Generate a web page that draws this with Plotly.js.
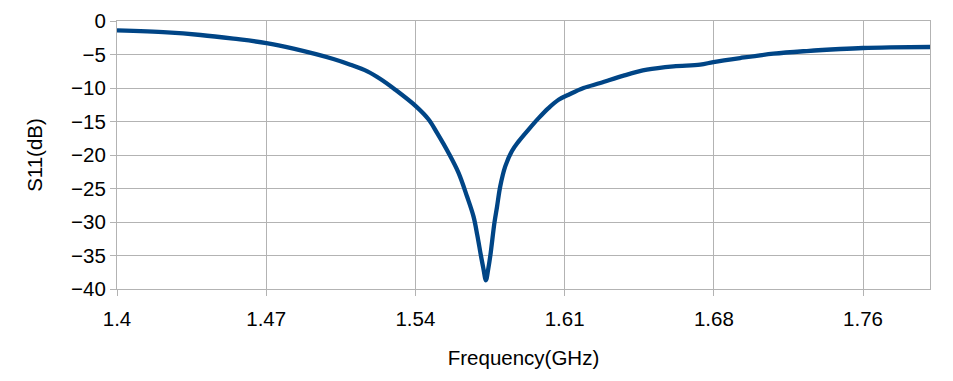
<!DOCTYPE html>
<html>
<head>
<meta charset="utf-8">
<script src="https://cdn.plot.ly/plotly-3.0.1.min.js"></script>
<style>html,body{margin:0;padding:0;background:#fff;}#chart{width:953px;height:381px;}</style>
</head>
<body>
<div id="chart"></div>
<script>
// Frequency (GHz)
const freq = [1.4000, 1.4239, 1.4398, 1.4555, 1.4712, 1.4841, 1.5031, 1.5112, 1.5193, 1.5255,
              1.5326, 1.5425, 1.5485, 1.5525, 1.5580, 1.5628, 1.5668, 1.5699, 1.5717, 1.5734,
              1.5745, 1.5758, 1.5769, 1.5779, 1.5799, 1.5811, 1.5826, 1.5850, 1.5882, 1.5913,
              1.5961, 1.6009, 1.6056, 1.6104, 1.6152, 1.6223, 1.6303, 1.6414, 1.6525, 1.6652,
              1.6779, 1.6842, 1.6969, 1.7128, 1.7287, 1.7446, 1.7554, 1.7684, 1.7874];
// S11 (dB)
const s11 = [-1.40, -1.70, -2.09, -2.64, -3.29, -4.13, -5.67, -6.52, -7.52, -8.66,
             -10.25, -12.74, -14.7, -16.7, -19.7, -22.7, -26.2, -29.2, -32.0, -35.0,
             -36.8, -38.7, -37.0, -35.0, -30.0, -27.7, -24.7, -21.7, -19.4, -18.0,
             -16.2, -14.5, -13.0, -11.75, -11.0, -10.0, -9.26, -8.16, -7.27, -6.77,
             -6.52, -6.13, -5.53, -4.88, -4.48, -4.18, -4.03, -3.94, -3.88];
// Category-style tick positions and their labels
const tickPos = [1.4, 1.4711, 1.5422, 1.6133, 1.6844, 1.7555];
const tickLabels = ['1.4', '1.47', '1.54', '1.61', '1.68', '1.76'];
const yTicks = [0, -5, -10, -15, -20, -25, -30, -35, -40];

const trace = {
  x: freq, y: s11, type: 'scatter', mode: 'lines',
  line: {color: '#004586', width: 4.3, shape: 'spline', smoothing: 1},
  hoverinfo: 'skip'
};
const grid = '#b3b3b3';
const layout = {
  width: 953, height: 381,
  margin: {l: 117, r: 23, t: 21, b: 92, pad: 0},
  paper_bgcolor: '#ffffff', plot_bgcolor: '#ffffff',
  showlegend: false,
  font: {family: 'Liberation Sans, Arial, sans-serif', color: '#000', size: 20},
  xaxis: {
    range: [1.4, 1.7874],
    tickmode: 'array', tickvals: tickPos, ticktext: tickLabels,
    showgrid: true, gridcolor: grid, gridwidth: 1,
    showline: true, linecolor: grid, linewidth: 1, mirror: true,
    ticks: 'outside', ticklen: 6, tickcolor: grid,
    zeroline: false,
    tickfont: {size: 20.5},
    ticklabelstandoff: 5,
    title: {text: 'Frequency(GHz)', font: {size: 20.5}, standoff: 22}
  },
  yaxis: {
    range: [-40, 0],
    tickmode: 'array', tickvals: yTicks,
    showgrid: true, gridcolor: grid, gridwidth: 1,
    showline: true, linecolor: grid, linewidth: 1, mirror: true,
    ticks: 'outside', ticklen: 6, tickcolor: grid,
    zeroline: false,
    tickfont: {size: 20.5},
    title: {text: 'S11(dB)', font: {size: 20.5}, standoff: 22}
  }
};
Plotly.newPlot('chart', [trace], layout, {staticPlot: true, displayModeBar: false});
</script>
</body>
</html>
